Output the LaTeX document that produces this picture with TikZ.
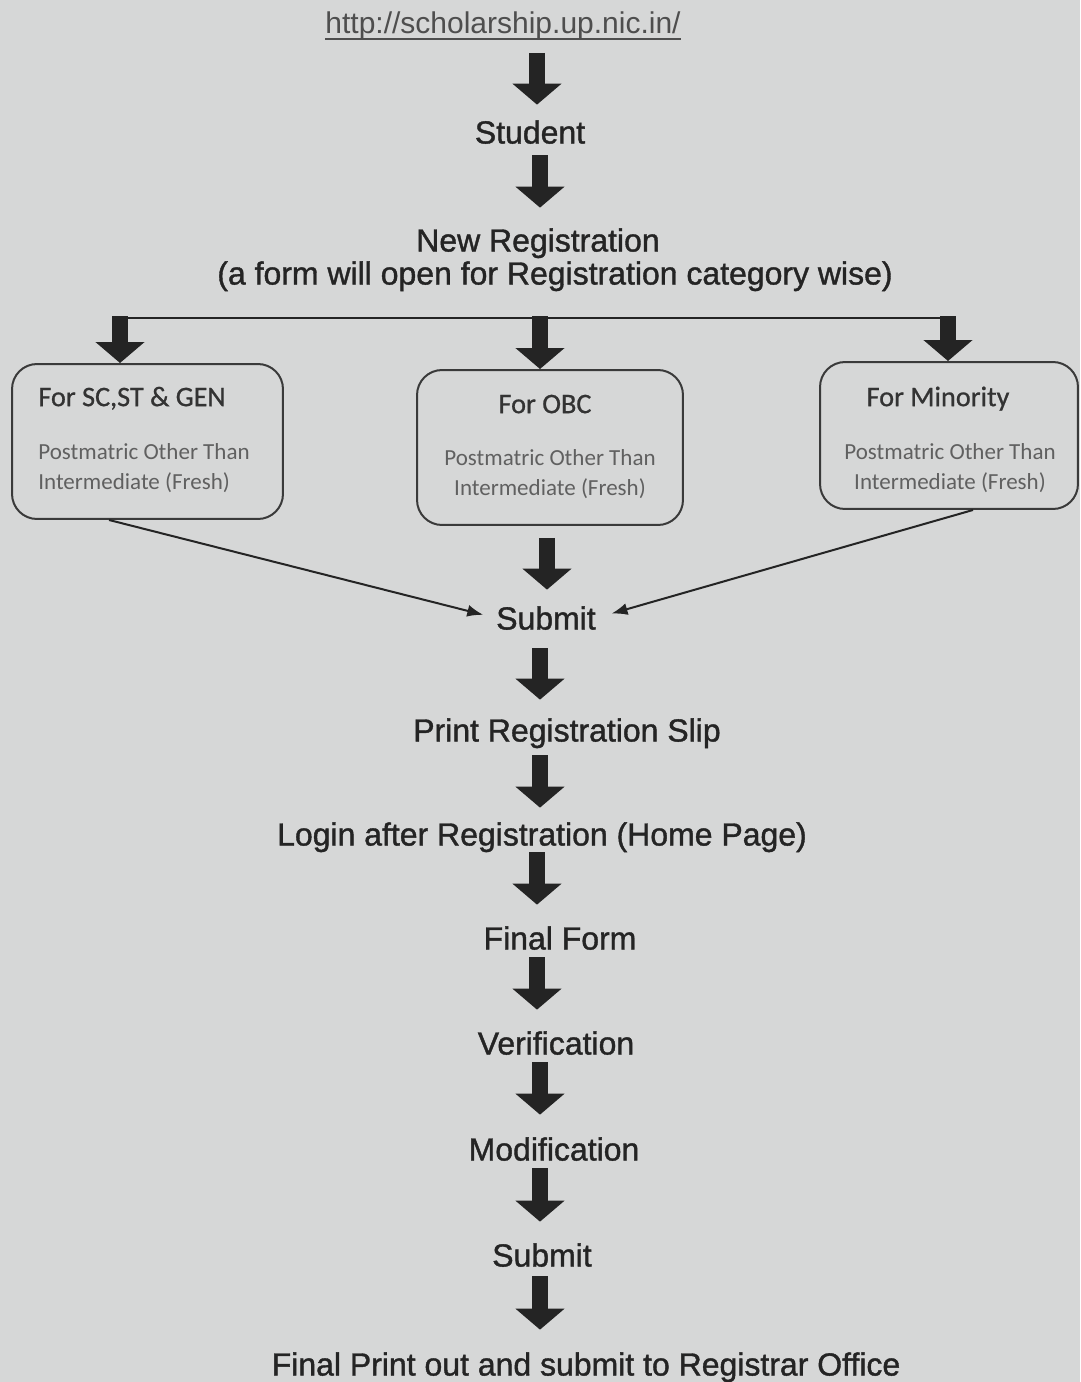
\documentclass[tikz,border=0pt]{standalone}
\usepackage{fontspec}
\usetikzlibrary{arrows.meta}
\newfontfamily\arialf{Liberation Sans}[BoldFont=Liberation Sans, BoldFeatures={FakeBold=1.2}]
\newfontfamily\calf{Carlito}[BoldFont=Carlito, BoldFeatures={FakeBold=0.8}]
\definecolor{bg}{HTML}{D6D7D7}
\definecolor{ink}{HTML}{242424}
\definecolor{urlc}{HTML}{4E4E4E}
\definecolor{boxc}{HTML}{3A3A3A}
\definecolor{headc}{HTML}{333333}
\definecolor{subc}{HTML}{606060}
\tikzset{
  lbl/.style={inner sep=0pt, text height=13.1pt, text depth=0pt, text=ink,
    font=\arialf\bfseries\fontsize{18.2}{22}\selectfont},
  big/.style={draw=ink, line width=0.32cm, -{Triangle[width=0.96cm,length=0.42cm]}},
  thinarrow/.style={draw=ink, line width=0.04cm, -{Latex[length=0.32cm,width=0.24cm]}},
  catbox/.style={draw=boxc, line width=0.04cm, rounded corners=0.5cm, inner sep=0pt},
  cathead/.style={inner sep=0pt, text height=10.4pt, text depth=0pt, text=headc,
    font=\calf\bfseries\fontsize{16.1}{19}\selectfont},
  catsub/.style={inner sep=0pt, text=subc, font=\calf\fontsize{13.1}{17.07}\selectfont},
}
\begin{document}
\begin{tikzpicture}[x=0.02cm,y=-0.02cm]
\fill[bg] (0,0) rectangle (1080,1382);
\useasboundingbox (0,0) rectangle (1080,1382);

% texts
\node[lbl, text=urlc, text height=12.8pt, font=\arialf\fontsize{17.07}{20}\selectfont] (url) at (503,22) {http://scholarship.up.nic.in/};
\draw[urlc, line width=0.04cm] ([yshift=-0.1cm]url.south west) -- ([yshift=-0.1cm]url.south east);
\node[lbl] (student) at (530,132) {Student};
\node[lbl] (newreg) at (538,240) {New Registration};
\node[lbl] (newreg2) at (555,273) {(a form will open for Registration category wise)};
\node[lbl] (submit1) at (546,618) {Submit};
\node[lbl] (print) at (567,730) {Print Registration Slip};
\node[lbl] (login) at (542,834) {Login after Registration (Home Page)};
\node[lbl] (final) at (560,938) {Final Form};
\node[lbl] (verif) at (556,1043) {Verification};
\node[lbl] (modif) at (554,1149) {Modification};
\node[lbl] (submit2) at (542,1255) {Submit};
\node[lbl] (finalprint) at (586,1364) {Final Print out and submit to Registrar Office};

% category boxes
\node[catbox, minimum width=5.42cm, minimum height=3.1cm] (box1) at (147.5,441.5) {};
\node[catbox, minimum width=5.32cm, minimum height=3.1cm] (box2) at (550,447.5) {};
\node[catbox, minimum width=5.16cm, minimum height=2.94cm] (box3) at (949,435.5) {};

\node[cathead, anchor=west] (h1) at (38,397) {For SC,ST \& GEN};
\node[catsub, anchor=west, align=left] (s1) at (38,468) {Postmatric Other Than\\Intermediate (Fresh)};
\node[cathead] (h2) at (545,404) {For OBC};
\node[catsub, align=center] (s2) at (550,474) {Postmatric Other Than\\Intermediate (Fresh)};
\node[cathead] (h3) at (938,397) {For Minority};
\node[catsub, align=center] (s3) at (950,468) {Postmatric Other Than\\Intermediate (Fresh)};

% branching bar
\coordinate (barL) at (120,318);
\coordinate (barM) at (540,318);
\coordinate (barR) at (948,318);
\draw[ink, line width=0.05cm] (barL) -- (barR);
\draw[big] ([yshift=0.04cm]barL) -- (box1.north -| barL);
\draw[big] ([yshift=0.04cm]barM) -- (box2.north -| barM);
\draw[big] ([yshift=0.04cm]barR) -- (box3.north -| barR);

% spine columns
\coordinate (sa) at (537,0);
\coordinate (sb) at (540,0);
\coordinate (sc) at (547,0);

% thick arrows
\draw[big, shorten <=0.384cm, shorten >=0.31cm] (url.south -| sa) -- (student.north -| sa);
\draw[big, shorten <=0.23cm, shorten >=0.41cm] (student.south -| sb) -- (newreg.north -| sb);
\draw[big, shorten <=0.24cm, shorten >=0.33cm] (box2.south -| sc) -- (submit1.north -| sc);
\draw[big, shorten <=0.37cm, shorten >=0.37cm] (submit1.south -| sb) -- (print.north -| sb);
\draw[big, shorten <=0.27cm, shorten >=0.29cm] (print.south -| sb) -- (login.north -| sb);
\draw[big, shorten <=0.13cm, shorten >=0.43cm] (login.south -| sa) -- (final.north -| sa);
\draw[big, shorten <=0.15cm, shorten >=0.43cm] (final.south -| sa) -- (verif.north -| sa);
\draw[big, shorten <=0.15cm, shorten >=0.45cm] (verif.south -| sb) -- (modif.north -| sb);
\draw[big, shorten <=0.15cm, shorten >=0.43cm] (modif.south -| sb) -- (submit2.north -| sb);
\draw[big, shorten <=0.19cm, shorten >=0.45cm] (submit2.south -| sb) -- (finalprint.north -| sb);

% thin arrows into Submit
\draw[thinarrow, shorten >=0.26cm] ([xshift=1.96cm]box1.south west) -- (submit1.west);
\draw[thinarrow, shorten >=0.32cm] ([xshift=-2.12cm]box3.south east) -- (submit1.east);
\end{tikzpicture}
\end{document}
